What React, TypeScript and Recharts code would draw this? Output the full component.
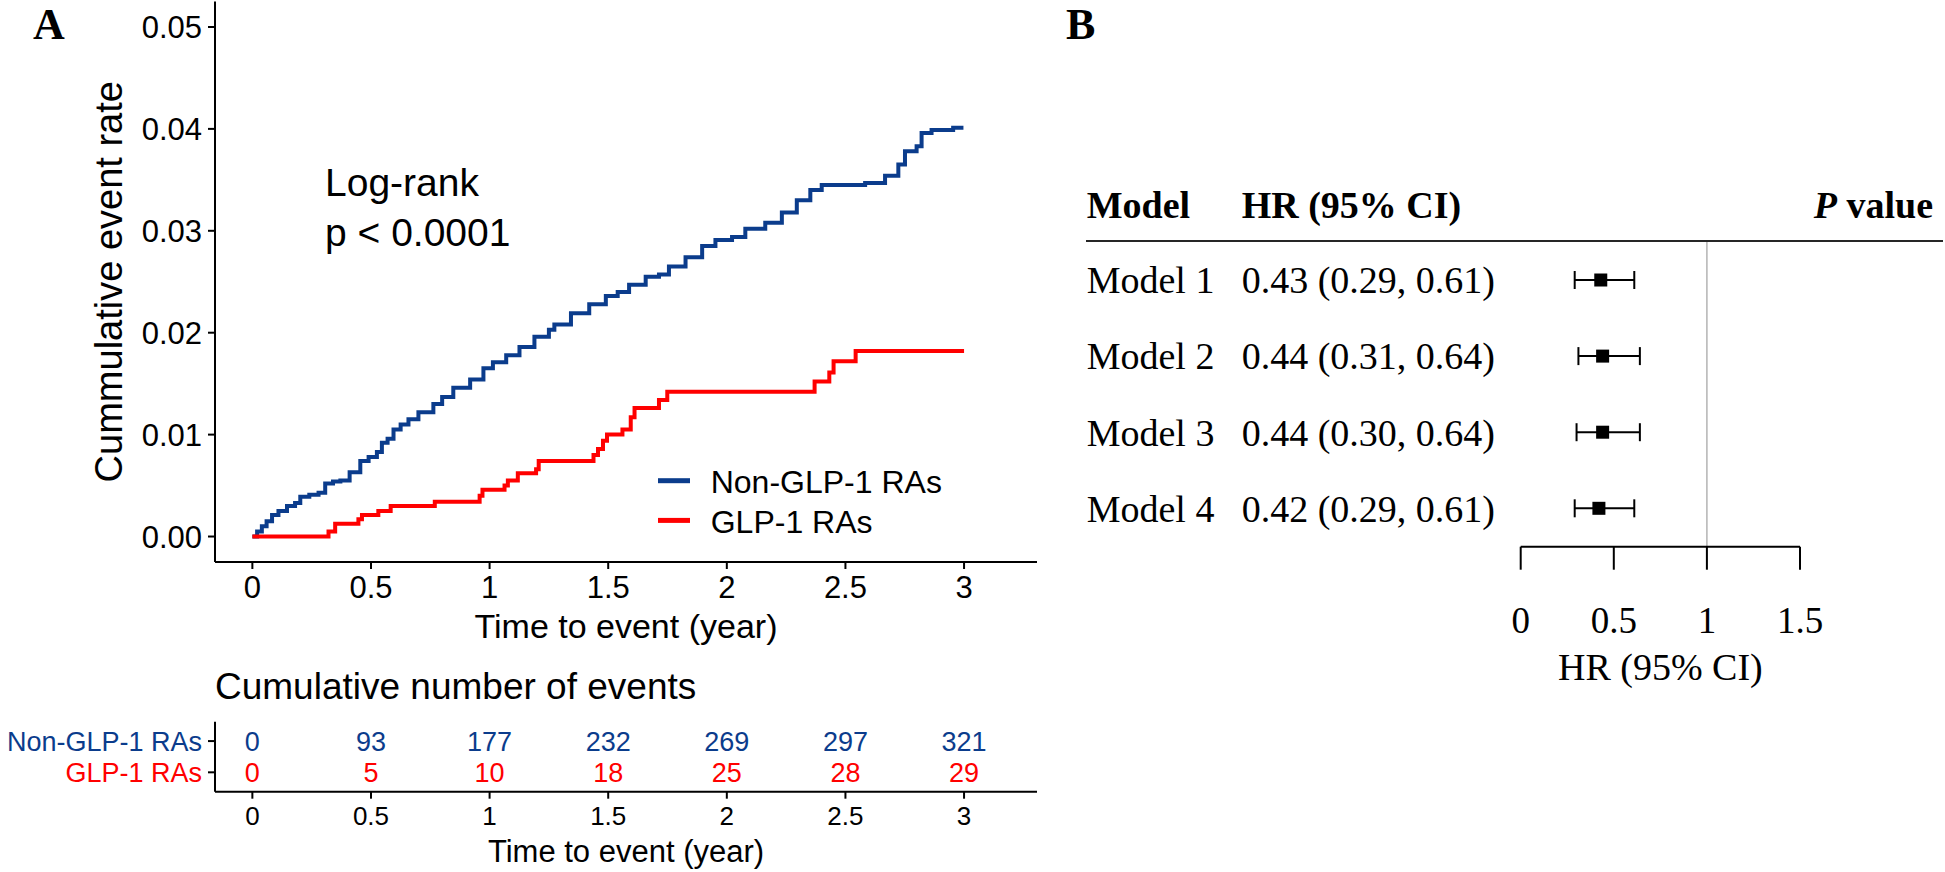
import React from "react";
import {
  ErrorBar,
  Label,
  LabelList,
  Legend,
  Line,
  LineChart,
  ReferenceLine,
  Scatter,
  ScatterChart,
  XAxis,
  YAxis,
} from "recharts";

const SANS = '"Liberation Sans", Arial, Helvetica, sans-serif';
const SERIF = '"Liberation Serif", "Times New Roman", Times, serif';
const BLUE = "#0b3c8c";
const RED = "#ff0000";

// panel A: cumulative event curves
const groups = ["Non-GLP-1 RAs", "GLP-1 RAs"];
const yearTicks = [0, 0.5, 1, 1.5, 2, 2.5, 3];
const rateTicks = [0, 0.01, 0.02, 0.03, 0.04, 0.05];

const nonGlpTime = [
  0, 0.02, 0.04, 0.06, 0.083, 0.11, 0.146, 0.18, 0.202, 0.24, 0.279, 0.307,
  0.34, 0.371, 0.41, 0.455, 0.49, 0.525, 0.546, 0.57, 0.595, 0.625, 0.658,
  0.7, 0.763, 0.8, 0.847, 0.918, 0.974, 1.014, 1.07, 1.126, 1.189, 1.25,
  1.273, 1.343, 1.42, 1.49, 1.54, 1.588, 1.658, 1.714, 1.756, 1.826, 1.896,
  1.952, 2.022, 2.078, 2.162, 2.232, 2.295, 2.352, 2.4, 2.583, 2.667, 2.723,
  2.751, 2.8, 2.821, 2.863, 2.954, 2.989,
];
const nonGlpRate = [
  0, 0.0005, 0.001, 0.0015, 0.0021, 0.0025, 0.003, 0.0033, 0.0039, 0.0041,
  0.0043, 0.0052, 0.0054, 0.0055, 0.0063, 0.0074, 0.0078, 0.0083, 0.0092,
  0.0096, 0.0105, 0.011, 0.0115, 0.0122, 0.013, 0.0137, 0.0146, 0.0154,
  0.0165, 0.0171, 0.0178, 0.0186, 0.0196, 0.0203, 0.0208, 0.0219, 0.0228,
  0.0236, 0.024, 0.0247, 0.0255, 0.0257, 0.0265, 0.0274, 0.0285, 0.0291,
  0.0294, 0.0302, 0.0308, 0.0318, 0.033, 0.034, 0.0345, 0.0347, 0.0354,
  0.0365, 0.0378, 0.0383, 0.0396, 0.0399, 0.0401, 0.0403,
];

const glpTime = [
  0, 0.321, 0.349, 0.447, 0.462, 0.531, 0.583, 0.769, 0.958, 0.97, 1.063,
  1.077, 1.119, 1.196, 1.207, 1.438, 1.457, 1.478, 1.495, 1.56, 1.595, 1.611,
  1.714, 1.749, 2.37, 2.432, 2.45, 2.543, 3.0,
];
const glpRate = [
  0, 0.0005, 0.00125, 0.0017, 0.0021, 0.0025, 0.003, 0.0034, 0.004, 0.0046,
  0.005, 0.0055, 0.0062, 0.0066, 0.0074, 0.008, 0.0086, 0.0094, 0.01, 0.0105,
  0.0117, 0.0126, 0.0134, 0.0142, 0.0152, 0.0161, 0.0172, 0.0182, 0.0182,
];

// risk table: cumulative number of events
const eventsNonGlp = [0, 93, 177, 232, 269, 297, 321];
const eventsGlp = [0, 5, 10, 18, 25, 28, 29];

// panel B: hazard ratios
const models = ["Model 1", "Model 2", "Model 3", "Model 4"];
const hr = [0.43, 0.44, 0.44, 0.42];
const hrLow = [0.29, 0.31, 0.3, 0.29];
const hrHigh = [0.61, 0.64, 0.64, 0.61];
const pValues = ["<0.0001", "<0.0001", "<0.0001", "<0.0001"];
const hrTicks = [0, 0.5, 1, 1.5];

const nonGlpData = nonGlpTime.map((t, i) => ({ t, v: nonGlpRate[i] }));
const glpData = glpTime.map((t, i) => ({ t, v: glpRate[i] }));
const riskNonGlp = yearTicks.map((t, i) => ({ t, row: 2, n: eventsNonGlp[i] }));
const riskGlp = yearTicks.map((t, i) => ({ t, row: 1, n: eventsGlp[i] }));
const forestData = models.map((m, i) => ({
  row: i + 1,
  hr: hr[i],
  err: [hr[i] - hrLow[i], hrHigh[i] - hr[i]],
}));

const fmt2 = (v: number) => v.toFixed(2);
const axisStroke = { stroke: "#000", strokeWidth: 2 };

function KmLegend(props: any) {
  // keep the legend in the same order as the groups list
  const payload = [...(props.payload || [])].sort(
    (a: any, b: any) => groups.indexOf(a.value) - groups.indexOf(b.value)
  );
  return (
    <svg width={320} height={100}>
      {payload.map((p: any, i: number) => (
        <g key={p.value}>
          <line
            x1={8}
            x2={40}
            y1={30.7 + i * 39.7}
            y2={30.7 + i * 39.7}
            stroke={p.color}
            strokeWidth={5}
          />
          <text x={60.7} y={43.3 + i * 40} fontSize={32} fontFamily={SANS} fill="#000">
            {p.value}
          </text>
        </g>
      ))}
    </svg>
  );
}

function RiskTick(props: any) {
  const { x, y, payload } = props;
  const isNon = payload.value === 2;
  return (
    <text
      x={x}
      y={y}
      dy="0.355em"
      textAnchor="end"
      fontSize={27}
      fontFamily={SANS}
      fill={isNon ? BLUE : RED}
    >
      {isNon ? groups[0] : groups[1]}
    </text>
  );
}

function ModelTick(props: any) {
  const { y, payload } = props;
  const i = payload.value - 1;
  return (
    <g fontFamily={SERIF} fontSize={38} fill="#000">
      <text x={26.7} y={y} dy="0.35em">
        {models[i]}
      </text>
      <text x={181.7} y={y} dy="0.35em">
        {`${fmt2(hr[i])} (${fmt2(hrLow[i])}, ${fmt2(hrHigh[i])})`}
      </text>
    </g>
  );
}

function PTick(props: any) {
  const { y, payload } = props;
  return (
    <text x={876.7} y={y} dy="0.35em" textAnchor="end" fontFamily={SERIF} fontSize={38} fill="#000">
      {pValues[payload.value - 1]}
    </text>
  );
}

const squareShape = (p: any) => (
  <rect x={p.cx - 6.5} y={p.cy - 6.5} width={13} height={13} fill="#000" />
);
const noShape = () => <g />;

export default function App() {
  return (
    <div
      style={{
        position: "absolute",
        left: 0,
        top: 0,
        width: 1945,
        height: 872,
        background: "#fff",
        overflow: "hidden",
      }}
    >
      <div style={{ position: "absolute", left: 0, top: 0 }}>
        <LineChart width={1060} height={660} margin={{ top: 1.5, right: 23, bottom: 0, left: 0 }}>
          <XAxis
            type="number"
            dataKey="t"
            domain={[-0.1575, 3.3075]}
            ticks={yearTicks}
            height={98}
            axisLine={axisStroke}
            tickLine={axisStroke}
            tickSize={7}
            tickMargin={7}
            tick={{ fill: "#000", fontSize: 31, fontFamily: SANS }}
          >
            <Label
              value="Time to event (year)"
              position="insideBottom"
              offset={21.7}
              fontSize={34}
              fontFamily={SANS}
              fill="#000"
            />
          </XAxis>
          <YAxis
            type="number"
            domain={[-0.0025, 0.0525]}
            ticks={rateTicks}
            tickFormatter={fmt2}
            width={215}
            axisLine={axisStroke}
            tickLine={axisStroke}
            tickSize={7}
            tickMargin={6}
            tick={{ fill: "#000", fontSize: 31, fontFamily: SANS }}
          >
            <Label
              value="Cummulative event rate"
              angle={-90}
              position="center"
              dx={1.5}
              fontSize={38}
              fontFamily={SANS}
              fill="#000"
            />
          </YAxis>
          <Legend
            layout="vertical"
            align="center"
            verticalAlign="middle"
            wrapperStyle={{ left: 650, top: 450, width: 320, height: 100 }}
            content={(p: any) => <KmLegend {...p} />}
          />
          <Line
            data={nonGlpData}
            dataKey="v"
            name={groups[0]}
            type="stepAfter"
            stroke={BLUE}
            strokeWidth={4}
            dot={false}
            activeDot={false}
            isAnimationActive={false}
          />
          <Line
            data={glpData}
            dataKey="v"
            name={groups[1]}
            type="stepAfter"
            stroke={RED}
            strokeWidth={4}
            dot={false}
            activeDot={false}
            isAnimationActive={false}
          />
        </LineChart>
      </div>

      <div style={{ position: "absolute", left: 0, top: 700 }}>
        <ScatterChart width={1060} height={172} margin={{ top: 21.7, right: 23, bottom: 0, left: 0 }}>
          <XAxis
            type="number"
            dataKey="t"
            domain={[-0.1575, 3.3075]}
            ticks={yearTicks}
            height={80.3}
            axisLine={axisStroke}
            tickLine={axisStroke}
            tickSize={7}
            tickMargin={8}
            tick={{ fill: "#000", fontSize: 26, fontFamily: SANS }}
          >
            <Label
              value="Time to event (year)"
              position="insideBottom"
              offset={10.3}
              fontSize={31}
              fontFamily={SANS}
              fill="#000"
            />
          </XAxis>
          <YAxis
            type="number"
            dataKey="row"
            domain={[0.38, 2.62]}
            ticks={[1, 2]}
            width={215}
            axisLine={axisStroke}
            tickLine={axisStroke}
            tickSize={7}
            tickMargin={6}
            tick={(p: any) => <RiskTick {...p} />}
          />
          <Scatter data={riskNonGlp} shape={noShape} isAnimationActive={false}>
            <LabelList dataKey="n" position="center" fill={BLUE} fontSize={27} fontFamily={SANS} />
          </Scatter>
          <Scatter data={riskGlp} shape={noShape} isAnimationActive={false}>
            <LabelList dataKey="n" position="center" fill={RED} fontSize={27} fontFamily={SANS} />
          </Scatter>
        </ScatterChart>
      </div>

      <div style={{ position: "absolute", left: 1060, top: 0 }}>
        <ScatterChart width={885} height={700} margin={{ top: 241, right: 0, bottom: 0, left: 0 }}>
          <XAxis
            type="number"
            dataKey="hr"
            domain={[0, 1.5]}
            ticks={hrTicks}
            height={153.3}
            axisLine={axisStroke}
            tickLine={axisStroke}
            tickSize={23}
            tickMargin={37}
            tick={{ fill: "#000", fontSize: 37, fontFamily: SERIF }}
          >
            <Label
              value="HR (95% CI)"
              position="insideBottom"
              offset={20}
              fontSize={38}
              fontFamily={SERIF}
              fill="#000"
            />
          </XAxis>
          <YAxis
            yAxisId="left"
            type="number"
            dataKey="row"
            domain={[0.4875, 4.5045]}
            ticks={[1, 2, 3, 4]}
            reversed
            width={460.7}
            axisLine={false}
            tickLine={false}
            tick={(p: any) => <ModelTick {...p} />}
          />
          <YAxis
            yAxisId="right"
            orientation="right"
            type="number"
            dataKey="row"
            domain={[0.4875, 4.5045]}
            ticks={[1, 2, 3, 4]}
            reversed
            width={145}
            axisLine={false}
            tickLine={false}
            tick={(p: any) => <PTick {...p} />}
          />
          <ReferenceLine x={1} yAxisId="left" stroke="#b3b3b3" strokeWidth={1.5} />
          <Scatter yAxisId="left" data={forestData} shape={squareShape} isAnimationActive={false}>
            <ErrorBar dataKey="err" direction="x" width={9} stroke="#000" strokeWidth={2} />
          </Scatter>
        </ScatterChart>
      </div>

      <svg
        width={1945}
        height={872}
        style={{ position: "absolute", left: 0, top: 0, pointerEvents: "none" }}
      >
        <text x={33} y={39} fontFamily={SERIF} fontWeight="bold" fontSize={44} fill="#000">
          A
        </text>
        <text x={1066} y={39} fontFamily={SERIF} fontWeight="bold" fontSize={44} fill="#000">
          B
        </text>
        <text x={325} y={196.3} fontFamily={SANS} fontSize={39} fill="#000">
          Log-rank
        </text>
        <text x={325} y={246.3} fontFamily={SANS} fontSize={39} fill="#000">
          p &lt; 0.0001
        </text>
        <text x={215} y={699.3} fontFamily={SANS} fontSize={37} fill="#000">
          Cumulative number of events
        </text>
        <g fontFamily={SERIF} fontWeight="bold" fontSize={38} fill="#000">
          <text x={1086.7} y={218.3}>Model</text>
          <text x={1241.7} y={218.3}>HR (95% CI)</text>
          <text x={1933} y={218.3} textAnchor="end">
            <tspan fontStyle="italic">P</tspan>
            <tspan> value</tspan>
          </text>
        </g>
        <line x1={1086} x2={1943} y1={241} y2={241} stroke="#262626" strokeWidth={2} />
      </svg>
    </div>
  );
}
